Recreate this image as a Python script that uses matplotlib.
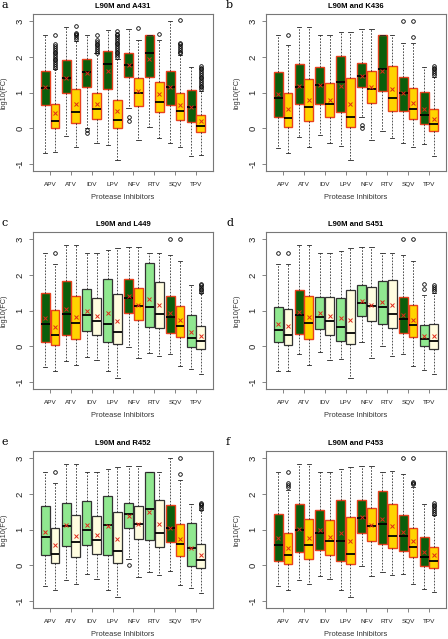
import matplotlib.pyplot as plt

drugs = ["APV", "ATV", "IDV", "LPV", "NFV", "RTV", "SQV", "TPV"]
titles = ["L90M and A431", "L90M and K436", "L90M and L449",
          "L90M and S451", "L90M and R452", "L90M and P453"]
letters = ["a", "b", "c", "d", "e", "f"]

# two boxes per drug: (whisker low, q1, median, q3, whisker high, mean)
stats_a = [
    (-0.69, 0.65, 1.13, 1.62, 2.60, 1.15), (-0.67, 0.02, 0.22, 0.67, 1.65, 0.42),
    (-0.22, 0.98, 1.42, 1.92, 2.85, 1.42), (-0.53, 0.16, 0.47, 1.10, 2.45, 0.68),
    (0.00, 1.15, 1.57, 1.93, 2.60, 1.55), (-0.40, 0.27, 0.55, 1.00, 2.10, 0.68),
    (-0.45, 1.10, 1.80, 2.17, 2.75, 1.60), (-0.87, 0.02, 0.24, 0.80, 1.95, 0.50),
    (0.58, 1.45, 1.76, 2.12, 2.77, 1.76), (-0.32, 0.63, 1.00, 1.40, 2.47, 1.05),
    (0.03, 1.43, 2.10, 2.62, 2.62, 1.93), (-0.27, 0.45, 0.75, 1.30, 2.48, 0.95),
    (-0.40, 0.65, 1.15, 1.62, 3.00, 1.15), (-0.53, 0.23, 0.50, 0.98, 2.05, 0.65),
    (-0.78, 0.17, 0.60, 1.07, 1.73, 0.60), (-0.75, -0.10, 0.08, 0.37, 1.05, 0.20),
]
stats_b = [
    (-0.55, 0.33, 0.85, 1.57, 2.60, 0.97), (-0.70, 0.04, 0.30, 1.00, 2.33, 0.53),
    (-0.24, 0.67, 1.15, 1.80, 2.85, 1.20), (-0.53, 0.20, 0.60, 1.37, 2.85, 0.80),
    (-0.17, 0.68, 1.22, 1.72, 2.60, 1.22), (-0.40, 0.32, 0.67, 1.28, 2.60, 0.80),
    (-0.50, 0.45, 1.30, 2.03, 2.70, 1.20), (-0.87, 0.05, 0.33, 1.40, 2.70, 0.68),
    (0.32, 1.17, 1.47, 1.83, 2.77, 1.47), (-0.32, 0.70, 1.10, 1.62, 2.77, 1.15),
    (-0.07, 1.05, 1.65, 2.62, 2.62, 1.60), (-0.27, 0.50, 0.85, 1.75, 2.60, 1.10),
    (-0.40, 0.50, 1.00, 1.45, 2.38, 1.00), (-0.53, 0.27, 0.55, 1.12, 2.40, 0.72),
    (-0.43, 0.12, 0.38, 1.03, 1.72, 0.55), (-0.78, -0.08, 0.13, 0.55, 1.45, 0.27),
]
stats_c = [
    (-0.57, 0.13, 0.63, 1.50, 2.60, 0.80), (-0.68, 0.05, 0.32, 1.02, 2.30, 0.55),
    (-0.40, 0.33, 0.92, 1.82, 2.83, 1.05), (-0.53, 0.22, 0.65, 1.40, 2.83, 0.82),
    (-0.30, 0.43, 0.88, 1.62, 2.60, 1.00), (-0.38, 0.33, 0.70, 1.35, 2.60, 0.85),
    (-0.68, 0.12, 0.62, 1.88, 2.70, 0.93), (-0.87, 0.07, 0.40, 1.48, 2.75, 0.72),
    (-0.02, 0.93, 1.35, 1.88, 2.77, 1.40), (-0.32, 0.73, 1.13, 1.63, 2.77, 1.15),
    (-0.18, 0.55, 1.10, 2.32, 2.60, 1.32), (-0.27, 0.52, 0.90, 1.80, 2.62, 1.15),
    (-0.22, 0.38, 0.83, 1.40, 2.55, 0.93), (-0.55, 0.27, 0.57, 1.13, 2.38, 0.73),
    (-0.62, -0.02, 0.25, 0.88, 1.72, 0.40), (-0.78, -0.07, 0.15, 0.57, 1.50, 0.30),
]
stats_d = [
    (-0.68, 0.13, 0.45, 1.10, 2.30, 0.63), (-0.68, 0.05, 0.33, 1.05, 2.30, 0.57),
    (-0.20, 0.35, 0.88, 1.57, 2.83, 0.97), (-0.53, 0.22, 0.65, 1.40, 2.83, 0.83),
    (-0.15, 0.48, 0.82, 1.38, 2.60, 0.93), (-0.38, 0.32, 0.72, 1.37, 2.60, 0.85),
    (-0.35, 0.15, 0.55, 1.35, 2.68, 0.80), (-0.87, 0.07, 0.38, 1.58, 2.75, 0.73),
    (0.13, 0.85, 1.22, 1.72, 2.77, 1.27), (-0.32, 0.72, 1.13, 1.65, 2.77, 1.17),
    (0.00, 0.63, 1.10, 1.82, 2.60, 1.25), (-0.27, 0.52, 0.90, 1.85, 2.62, 1.15),
    (-0.22, 0.38, 0.77, 1.37, 2.55, 0.87), (-0.55, 0.27, 0.60, 1.15, 2.38, 0.73),
    (-0.65, 0.00, 0.20, 0.60, 1.43, 0.30), (-0.78, -0.07, 0.15, 0.63, 1.50, 0.30),
]
stats_e = [
    (-0.58, 0.28, 0.80, 1.67, 2.60, 0.93), (-0.68, 0.07, 0.33, 1.05, 2.30, 0.58),
    (-0.40, 0.53, 1.10, 1.75, 2.85, 1.13), (-0.53, 0.23, 0.65, 1.40, 2.85, 0.83),
    (-0.23, 0.57, 1.00, 1.80, 2.60, 1.13), (-0.38, 0.33, 0.70, 1.38, 2.60, 0.85),
    (-0.68, 0.28, 1.13, 1.95, 2.70, 1.10), (-0.87, 0.07, 0.40, 1.50, 2.75, 0.73),
    (0.17, 1.05, 1.43, 1.75, 2.77, 1.38), (-0.32, 0.73, 1.15, 1.67, 2.77, 1.17),
    (-0.18, 0.70, 1.57, 2.60, 2.60, 1.50), (-0.27, 0.52, 0.90, 1.82, 2.62, 1.15),
    (-0.15, 0.65, 1.05, 1.70, 3.00, 1.05), (-0.55, 0.27, 0.60, 1.17, 2.38, 0.73),
    (-0.62, -0.02, 0.50, 1.20, 1.72, 0.50), (-0.78, -0.07, 0.15, 0.60, 1.55, 0.30),
]
stats_f = [
    (-0.58, 0.13, 0.57, 1.43, 2.60, 0.78), (-0.68, 0.03, 0.28, 0.90, 2.10, 0.50),
    (-0.40, 0.37, 1.00, 1.73, 2.85, 1.03), (-0.53, 0.18, 0.57, 1.30, 2.85, 0.78),
    (-0.30, 0.43, 0.92, 1.55, 2.60, 1.00), (-0.38, 0.28, 0.67, 1.28, 2.60, 0.80),
    (-0.70, 0.13, 0.67, 1.82, 2.70, 0.92), (-0.87, 0.05, 0.33, 1.35, 2.75, 0.68),
    (-0.02, 0.92, 1.33, 1.83, 2.77, 1.35), (-0.30, 0.67, 1.10, 1.60, 2.77, 1.13),
    (-0.18, 0.60, 1.17, 2.07, 2.60, 1.30), (-0.27, 0.50, 0.83, 1.73, 2.63, 1.10),
    (-0.25, 0.40, 0.83, 1.42, 2.57, 0.93), (-0.53, 0.25, 0.52, 1.05, 2.20, 0.68),
    (-0.67, -0.02, 0.23, 0.80, 1.72, 0.38), (-0.75, -0.08, 0.13, 0.52, 1.40, 0.28),
]

# outliers, keyed by box index (0..15)
out_a = {
    1: [1.70, 1.75, 1.80, 1.85, 1.90, 1.95, 2.00, 2.05, 2.10, 2.15, 2.20, 2.25, 2.30, 2.35, 2.62],
    3: [2.50, 2.55, 2.60, 2.64, 2.68, 2.87],
    4: [-0.05, -0.13],
    5: [2.12, 2.17, 2.22, 2.27, 2.32, 2.37, 2.42, 2.47, 2.60],
    7: [2.00, 2.05, 2.10, 2.15, 2.20, 2.25, 2.30, 2.35, 2.40, 2.45, 2.50, 2.55, 2.60, 2.65, 2.72],
    8: [0.33, 0.22],
    9: [2.80],
    11: [2.65],
    13: [2.10, 2.15, 2.20, 2.25, 2.30, 2.35, 2.40, 3.02],
    15: [1.10, 1.15, 1.20, 1.25, 1.30, 1.35, 1.40, 1.45, 1.50, 1.55, 1.60, 1.65, 1.70, 1.75],
}
out_b = {
    1: [2.60],
    8: [0.10, 0.02],
    12: [3.00],
    13: [2.57, 3.00],
    15: [1.50, 1.55, 1.60, 1.65, 1.70, 1.75],
}
out_c = {
    1: [2.60],
    12: [3.00],
    13: [3.00],
    15: [1.52, 1.57, 1.62, 1.67, 1.72, 1.75],
}
out_d = {
    0: [2.60],
    1: [2.60],
    12: [3.00],
    13: [3.00],
    14: [1.62, 1.75],
    15: [1.55, 1.60, 1.67, 1.73],
}
out_e = {
    1: [2.60],
    8: [0.00],
    13: [2.57, 3.00],
    15: [1.58, 1.63, 1.68, 1.72, 1.75],
}
out_f = {
    1: [2.20, 2.25, 2.30, 2.60],
    12: [3.00],
    13: [2.27, 2.30, 2.33, 3.00],
    15: [1.45, 1.50, 1.55, 1.60, 1.65, 1.70, 1.75],
}

# 1 = dark green / gold pair, 0 = light green / cream pair
sig_a = [1, 1, 1, 1, 1, 1, 1, 1]
sig_b = [1, 1, 1, 1, 1, 1, 1, 1]
sig_c = [1, 1, 0, 0, 1, 0, 1, 0]
sig_d = [0, 1, 0, 0, 0, 0, 1, 0]
sig_e = [0, 0, 0, 0, 0, 0, 1, 0]
sig_f = [1, 1, 1, 1, 1, 1, 1, 1]

panels = [
    (stats_a, out_a, sig_a), (stats_b, out_b, sig_b),
    (stats_c, out_c, sig_c), (stats_d, out_d, sig_d),
    (stats_e, out_e, sig_e), (stats_f, out_f, sig_f),
]

plt.rcParams['font.family'] = ['Liberation Sans', 'DejaVu Sans']

fig = plt.figure(figsize=(4.48, 6.39), dpi=100)

lefts = [33 / 448, 266 / 448]
bottoms = [1 - 171 / 639, 1 - 389 / 639, 1 - 608 / 639]
w = 180 / 448
h = 157 / 639

fill_sig = ['#0b5e0b', '#ffd400']
fill_ns = ['#90e890', '#fffde0']
edge_sig = '#e8401c'
edge_ns = '#333333'

group_pos = [2 * i + 1.5 for i in range(8)]
positions = []
for g in group_pos:
    positions += [g - 0.47, g + 0.47]

for k, (stats, outs, sig) in enumerate(panels):
    row, col = divmod(k, 2)
    ax = fig.add_axes([lefts[col], bottoms[row], w, h])

    bstats = []
    for i, (lo, q1, med, q3, hi, mean) in enumerate(stats):
        bstats.append(dict(whislo=lo, q1=q1, med=med, q3=q3, whishi=hi,
                           mean=mean, fliers=outs.get(i, [])))

    bp = ax.bxp(bstats, positions=positions, widths=0.86, capwidths=0.42,
                patch_artist=True, showmeans=True,
                whiskerprops=dict(color='#222222', linewidth=0.55, linestyle=(0, (2.2, 1.8))),
                capprops=dict(color='#222222', linewidth=0.6),
                medianprops=dict(color='black', linewidth=1.3),
                meanprops=dict(marker='x', markeredgecolor='#e02818',
                               markersize=3, markeredgewidth=0.7),
                flierprops=dict(marker='o', markerfacecolor='none',
                                markeredgecolor='black', markersize=2.6,
                                markeredgewidth=0.6))

    for i, box in enumerate(bp['boxes']):
        s = sig[i // 2]
        if s:
            box.set_facecolor(fill_sig[i % 2])
            box.set_edgecolor(edge_sig)
            box.set_linewidth(1.0)
        else:
            box.set_facecolor(fill_ns[i % 2])
            box.set_edgecolor(edge_ns)
            box.set_linewidth(0.9)
    for m in bp['means']:
        m.set_zorder(5)

    ax.set_xlim(-0.14, 17.14)
    ax.set_ylim(-1.19, 3.2)
    ax.set_xticks(group_pos)
    ax.set_xticklabels(drugs, fontsize=4.6, color='#222222')
    ax.set_yticks([-1, 0, 1, 2, 3])
    ax.set_yticklabels(['-1', '0', '1', '2', '3'], fontsize=6.8, rotation=90,
                       va='center', color='#222222')
    ax.tick_params(axis='both', length=3, width=0.5, color='#555555')
    ax.tick_params(axis='x', pad=5)
    ax.tick_params(axis='y', pad=3)
    for sp in ax.spines.values():
        sp.set_color('#777777')
        sp.set_linewidth(0.8)

    ax.set_title(titles[k], fontsize=5.5, fontweight='bold', pad=4)
    ax.set_xlabel('Protease Inhibitors', fontsize=5.4, color='#333333', labelpad=5)
    ax.set_ylabel('log10(FC)', fontsize=5.2, color='#333333', labelpad=6)

    fig.text(lefts[col] - 31 / 448 if col == 0 else lefts[col] - 40 / 448,
             bottoms[row] + h + 9 / 639, letters[k],
             family='DejaVu Serif', fontsize=8, va='center', ha='left')

fig.savefig('out.png', dpi=100)
